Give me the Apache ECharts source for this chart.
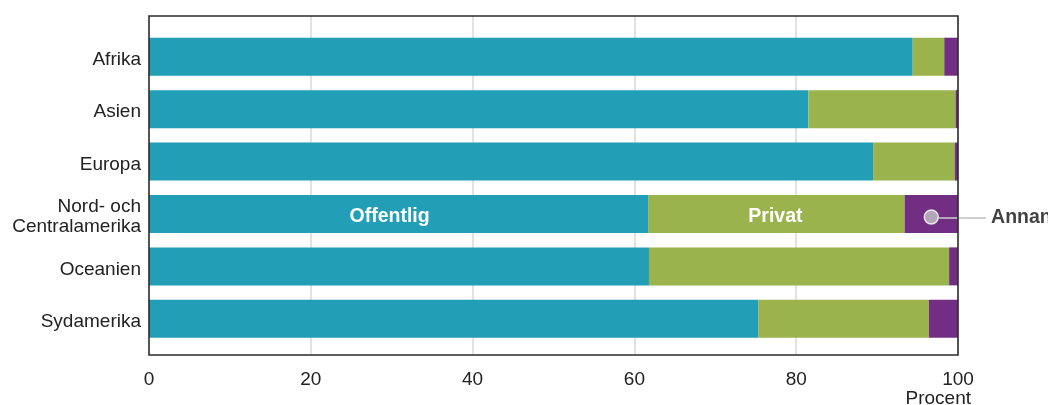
<!DOCTYPE html>
<html>
<head>
<meta charset="utf-8">
<script src="https://cdn.jsdelivr.net/npm/echarts@6/dist/echarts.min.js"></script>
<style>html,body{margin:0;padding:0;background:#fff}#c{width:1048px;height:405px}</style>
</head>
<body>
<div id="c"></div>
<script>
const categories = ['Afrika', 'Asien', 'Europa', 'Nord- och\nCentralamerika', 'Oceanien', 'Sydamerika'];
const offentlig = [94.4, 81.5, 89.5, 61.7, 61.8, 75.3];
const privat = [3.9, 18.2, 10.1, 31.7, 37.1, 21.1];
const annan = [1.7, 0.3, 0.4, 6.6, 1.1, 3.6];
const xTicks = [0, 20, 40, 60, 80, 100];
const labelRow = 3;

const FONT = '"Liberation Sans", Arial, Helvetica, sans-serif';
const chart = echarts.init(document.getElementById('c'));

function seg(vals, name, color, labelText, offset) {
  return {
    type: 'bar', name: name, stack: 's', xAxisIndex: 1, yAxisIndex: 1,
    barWidth: 38, itemStyle: { color: color },
    data: vals.map((v, i) => i === labelRow && labelText ? {
      value: v,
      label: { show: true, position: 'inside', offset: offset || [0, 0], formatter: labelText, color: '#fff', fontWeight: 'bold', fontSize: 19.5, fontFamily: FONT }
    } : v)
  };
}

const annanMid = offentlig[labelRow] + privat[labelRow] + annan[labelRow] / 2;

chart.setOption({
  animation: false,
  textStyle: { fontFamily: FONT },
  grid: [
    { left: 149, right: 90, top: 16, bottom: 50, show: true, z: 10, borderColor: '#2b2b2b', borderWidth: 1.6, backgroundColor: 'transparent' },
    { left: 149, right: 90, top: 30.5, bottom: 60 },
    { left: 149, right: 90, top: 33.5, bottom: 57 }
  ],
  xAxis: [
    { type: 'value', gridIndex: 0, min: 0, max: 100, interval: 20,
      axisLine: { show: false }, axisTick: { show: false },
      splitLine: { show: true, showMinLine: false, showMaxLine: false, lineStyle: { color: '#d9d9d9', width: 1.5 } },
      axisLabel: { color: '#222', fontSize: 19, margin: 15, fontFamily: FONT,
        formatter: v => xTicks.includes(v) ? String(v) : '' } },
    { type: 'value', gridIndex: 1, min: 0, max: 100, show: false },
    { type: 'value', gridIndex: 2, min: 0, max: 100, show: false }
  ],
  yAxis: [
    { type: 'value', gridIndex: 0, show: false },
    { type: 'category', gridIndex: 1, data: categories, inverse: true, show: false },
    { type: 'category', gridIndex: 2, data: categories, inverse: true,
      axisLine: { show: false }, axisTick: { show: false }, splitLine: { show: false },
      axisLabel: { color: '#222', fontSize: 19, margin: 8, lineHeight: 20, fontFamily: FONT } }
  ],
  title: { text: 'Procent', right: 77, top: 389, padding: 0, textStyle: { fontSize: 19, fontWeight: 'normal', color: '#222', fontFamily: FONT } },
  series: [
    seg(offentlig, 'Offentlig', '#229eb7', 'Offentlig', [-9, 3]),
    seg(privat, 'Privat', '#9bb34d', 'Privat', [-1, 3]),
    seg(annan, 'Annan', '#722e83', null),
    {
      type: 'scatter', xAxisIndex: 1, yAxisIndex: 1, z: 5,
      symbol: 'circle', symbolSize: 14, symbolOffset: [0, 3],
      itemStyle: { color: '#c4c4c6', borderColor: '#fff', borderWidth: 1.5 },
      data: [[annanMid, categories[labelRow]]],
      label: {
        show: true, position: 'right', distance: 0, offset: [0, 1],
        formatter: '{l|}{t|Annan}',
        rich: {
          l: { width: 47, height: 2, backgroundColor: '#c4c4c6', verticalAlign: 'middle' },
          t: { fontSize: 19.5, fontWeight: 'bold', color: '#111', padding: [0, 0, 0, 5], fontFamily: FONT, verticalAlign: 'middle' }
        }
      }
    }
  ]
});
</script>
</body>
</html>
